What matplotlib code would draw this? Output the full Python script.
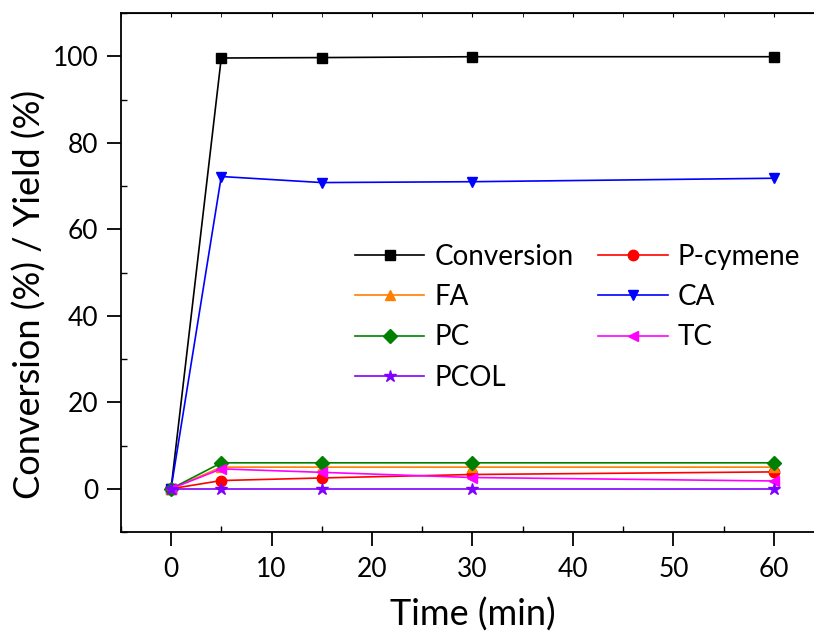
import matplotlib
matplotlib.use("Agg")
import matplotlib.pyplot as plt
from matplotlib.ticker import MultipleLocator

plt.rcParams['font.family'] = ['Lato', 'DejaVu Sans']

# Data ########################################################################

time_min   = [0, 5, 15, 30, 60]
conversion = [0, 99.6, 99.7, 99.9, 99.9]
p_cymene   = [0, 1.9, 2.5, 3.3, 3.9]
fa         = [0, 5.0, 5.0, 5.0, 5.0]
ca         = [0, 72.2, 70.8, 71.0, 71.8]
pc         = [0, 6.0, 6.0, 6.0, 6.0]
tc         = [0, 4.6, 3.8, 2.6, 1.8]
pcol       = [0, 0, 0, 0, 0]

series = [
    ("Conversion", conversion, "black",   "s"),
    ("P-cymene",   p_cymene,   "red",     "o"),
    ("FA",         fa,         "#FF8000", "^"),
    ("CA",         ca,         "blue",    "v"),
    ("PC",         pc,         "#008000", "D"),
    ("TC",         tc,         "#FF00FF", "<"),
    ("PCOL",       pcol,       "#8000FF", "*"),
]

# Plot ########################################################################

fig = plt.figure(figsize=(8.14, 6.36), dpi=100)
ax = fig.add_axes([0.1484, 0.1635, 0.864, 0.816])

lines = {}
for name, vals, col, mk in series:
    ms = 9 if mk == "*" else 7.5
    ln, = ax.plot(time_min, vals, color=col, marker=mk, markersize=ms,
                  linewidth=1.2, label=name)
    lines[name] = ln

ax.set_xlim(-5, 65)
ax.set_ylim(-10, 110)
ax.xaxis.set_major_locator(MultipleLocator(10))
ax.xaxis.set_minor_locator(MultipleLocator(5))
ax.yaxis.set_minor_locator(MultipleLocator(10))
ax.set_yticks([0, 20, 40, 60, 80, 100])

ax.tick_params(axis='x', which='major', direction='out', length=10, width=1.3,
               labelsize=19, pad=8)
ax.tick_params(axis='y', which='major', direction='out', length=10, width=1.3,
               labelsize=19, pad=6)
ax.tick_params(which='minor', direction='in', length=4, width=1)
sec = ax.secondary_xaxis('top')
sec.xaxis.set_minor_locator(MultipleLocator(5))
sec.tick_params(which='both', direction='in', length=3, labeltop=False)
for s in ax.spines.values():
    s.set_linewidth(1.3)

ax.set_xlabel('Time (min)', fontsize=26, labelpad=11)
ax.set_ylabel('Conversion (%) / Yield (%)', fontsize=26)
ax.yaxis.set_label_coords(-0.105, 0.457)

# legend filled column-wise, so order so rows read across
order = ["Conversion", "FA", "PC", "PCOL", "P-cymene", "CA", "TC"]
ax.legend([lines[n] for n in order], order, ncol=2, frameon=False,
          fontsize=20, loc='upper left', bbox_to_anchor=(0.2975, 0.604),
          handlelength=2.5, labelspacing=0.52, columnspacing=0.9,
          handletextpad=0.35)

plt.savefig('out.png', dpi=100)
